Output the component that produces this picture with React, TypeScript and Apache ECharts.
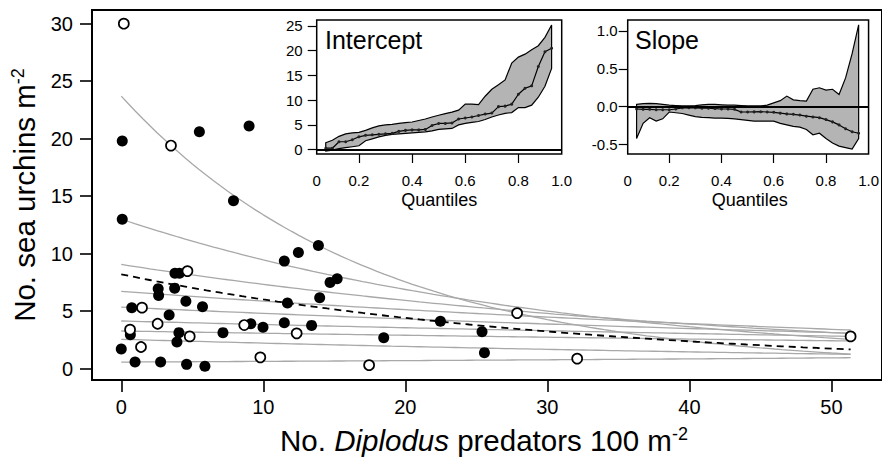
import React, { useEffect, useRef } from "react";
import * as echarts from "echarts";

const FONT = "'Liberation Sans', Arial, Helvetica, sans-serif";

// ---- main scatter: filled and open circles ----
const filledPredators = [0.07, 5.5, 9.0, 7.9, 0.07, 0.0, 0.97, 0.74, 0.64, 2.6, 2.63, 2.77, 3.37, 3.76, 3.78, 4.1, 4.55, 4.06, 3.92, 5.72, 4.6, 5.89, 7.16, 9.12, 9.98, 11.48, 11.7, 11.48, 12.47, 13.88, 14.7, 15.2, 13.97, 13.4, 18.48, 22.47, 25.4, 25.57];
const filledUrchins = [19.8, 20.6, 21.1, 14.6, 13.0, 1.7, 0.57, 5.3, 2.95, 6.95, 6.37, 0.57, 4.66, 7.0, 8.3, 8.3, 5.85, 3.13, 2.31, 5.39, 0.37, 0.2, 3.13, 3.9, 3.6, 9.35, 5.7, 3.99, 10.1, 10.71, 7.5, 7.82, 6.17, 3.76, 2.69, 4.11, 3.2, 1.39];
const openPredators = [0.18, 3.5, 1.46, 0.62, 1.39, 2.56, 4.66, 4.82, 8.66, 9.79, 12.35, 17.45, 27.87, 32.1, 51.35];
const openUrchins = [30.0, 19.4, 5.3, 3.39, 1.88, 3.9, 8.48, 2.8, 3.79, 0.98, 3.07, 0.3, 4.83, 0.87, 2.8];

// ---- fitted exponential curves y = a * exp(b * x) ----
const curveIntercepts = [23.7, 13.0, 9.06, 6.72, 5.35, 4.14, 3.27, 2.55, 0.57];
const curveRates = [-0.0572, -0.0318, -0.0212, -0.0135, -0.0107, -0.0076, -0.006, -0.014, 0.0099];
const meanIntercept = 8.2;
const meanRate = -0.031;
const curveXEnd = 51.35;

const mainXTicks = [0, 10, 20, 30, 40, 50];
const mainYTicks = [0, 5, 10, 15, 20, 25, 30];

// ---- insets ----
const quantiles = [0.075, 0.1, 0.125, 0.15, 0.175, 0.2, 0.225, 0.25, 0.275, 0.3, 0.325, 0.35, 0.375, 0.4, 0.425, 0.45, 0.475, 0.5, 0.525, 0.55, 0.575, 0.6, 0.625, 0.65, 0.675, 0.7, 0.725, 0.75, 0.775, 0.8, 0.825, 0.85, 0.875, 0.9, 0.925];
const interceptEst = [0.3, 0.3, 1.6, 1.6, 2.0, 2.6, 2.9, 3.0, 3.1, 3.2, 3.3, 3.7, 3.9, 4.0, 4.0, 4.1, 4.9, 5.3, 5.3, 5.4, 6.2, 6.4, 6.6, 6.9, 7.2, 7.4, 8.7, 8.8, 9.2, 11.2, 12.4, 12.9, 16.8, 19.8, 20.5];
const interceptHigh = [1.4, 1.9, 2.7, 3.2, 3.4, 3.5, 3.9, 4.4, 4.8, 5.0, 5.1, 5.3, 5.45, 5.6, 5.9, 6.2, 6.6, 6.95, 7.3, 7.6, 8.0, 9.2, 9.2, 9.1, 10.8, 12.2, 13.1, 14.1, 17.5, 18.7, 19.3, 20.2, 21.0, 22.7, 25.2];
const interceptLow = [-0.3, -0.1, 0.2, 0.4, 0.6, 0.8, 1.8, 2.2, 2.6, 2.9, 3.1, 3.2, 3.3, 3.4, 3.5, 3.6, 3.8, 4.1, 4.2, 4.3, 5.0, 5.3, 5.5, 5.7, 6.1, 6.6, 7.0, 7.35, 7.5, 8.5, 8.5, 9.0, 10.6, 12.8, 16.4];
const slopeEst = [-0.03, -0.035, -0.035, -0.04, -0.04, -0.04, -0.03, -0.015, -0.013, -0.015, -0.02, -0.02, -0.025, -0.03, -0.03, -0.035, -0.07, -0.07, -0.068, -0.066, -0.07, -0.074, -0.085, -0.095, -0.1, -0.11, -0.125, -0.135, -0.145, -0.17, -0.2, -0.24, -0.29, -0.33, -0.35];
const slopeHigh = [0.03, 0.04, 0.045, 0.04, 0.03, 0.02, 0.015, 0.01, 0.01, 0.015, 0.025, 0.03, 0.03, 0.025, 0.02, 0.02, 0.015, 0.01, 0.01, 0.01, 0.02, 0.05, 0.08, 0.14, 0.09, 0.08, 0.075, 0.23, 0.25, 0.22, 0.23, 0.16, 0.38, 0.7, 1.08];
const slopeLow = [-0.42, -0.22, -0.145, -0.19, -0.16, -0.07, -0.08, -0.09, -0.11, -0.13, -0.14, -0.145, -0.15, -0.15, -0.155, -0.16, -0.17, -0.18, -0.19, -0.19, -0.19, -0.19, -0.22, -0.24, -0.26, -0.27, -0.3, -0.37, -0.35, -0.42, -0.48, -0.52, -0.54, -0.56, -0.42];
const interceptTicks = [0, 5, 10, 15, 20, 25];
const slopeTicks = [-0.5, 0, 0.5, 1.0];
const quantileTicks = [0.2, 0.4, 0.6, 0.8];

const Q_MIN = 0.041;
const Q_MAX = 0.963;

function curvePoints(a: number, b: number) {
  const pts: number[][] = [];
  for (let x = 0; x < curveXEnd; x += 0.5) pts.push([x, a * Math.exp(b * x)]);
  pts.push([curveXEnd, a * Math.exp(b * curveXEnd)]);
  return pts;
}

function bandSeries(idx: number, low: number[], high: number[]) {
  return {
    type: "custom",
    xAxisIndex: idx,
    yAxisIndex: idx,
    silent: true,
    z: 2,
    data: [[quantiles[0], low[0]]],
    encode: { x: 0, y: 1 },
    renderItem: (_p: any, api: any) => {
      const pts: number[][] = [];
      for (let i = 0; i < quantiles.length; i++) pts.push(api.coord([quantiles[i], high[i]]));
      for (let i = quantiles.length - 1; i >= 0; i--) pts.push(api.coord([quantiles[i], low[i]]));
      return {
        type: "polygon",
        shape: { points: pts },
        style: { fill: "#b4b4b4", stroke: "#000", lineWidth: 1.2 },
      };
    },
  };
}

function estSeries(idx: number, est: number[]) {
  return {
    type: "line",
    xAxisIndex: idx,
    yAxisIndex: idx,
    silent: true,
    z: 3,
    data: quantiles.map((q, i) => [q, est[i]]),
    lineStyle: { color: "#000", width: 1.2 },
    itemStyle: { color: "#222", opacity: 1 },
    symbol: "circle",
    symbolSize: 3,
    showSymbol: true,
    markLine: {
      silent: true,
      symbol: ["none", "none"],
      label: { show: false },
      lineStyle: { color: "#000", width: 2, type: "solid" },
      data: [{ yAxis: 0 }],
    },
  };
}

function insetXAxis(idx: number) {
  return {
    gridIndex: idx,
    type: "value",
    min: Q_MIN,
    max: Q_MAX,
    axisLine: { show: false, onZero: false },
    splitLine: { show: false },
    axisTick: { show: true, customValues: quantileTicks, length: 9, lineStyle: { color: "#000", width: 1.2 } },
    axisLabel: {
      customValues: [Q_MIN, 0.2, 0.4, 0.6, 0.8, Q_MAX],
      formatter: (v: number) => (v < 0.1 ? "0" : v > 0.9 ? "1.0" : v.toFixed(1)),
      fontSize: 15,
      color: "#000",
      margin: 19,
      fontFamily: FONT,
    },
  };
}

function insetYAxis(idx: number, min: number, max: number, ticks: number[], fmt: (v: number) => string, margin: number) {
  return {
    gridIndex: idx,
    type: "value",
    min,
    max,
    axisLine: { show: false, onZero: false },
    splitLine: { show: false },
    axisTick: { show: true, customValues: ticks, length: 9, lineStyle: { color: "#000", width: 1.2 } },
    axisLabel: { customValues: ticks, formatter: fmt, fontSize: 15, color: "#000", margin, fontFamily: FONT },
  };
}

export default function App() {
  const ref = useRef<HTMLDivElement>(null);
  useEffect(() => {
    if (!ref.current) return;
    const chart = echarts.init(ref.current, undefined, { renderer: "svg" });
    const gridBase = { show: true, borderColor: "#000", backgroundColor: "#fff", containLabel: false };
    const option: any = {
      animation: false,
      backgroundColor: "#fff",
      textStyle: { fontFamily: FONT },
      grid: [
        { ...gridBase, left: 92, top: 10, width: 802.6, height: 370, borderWidth: 2 },
        { ...gridBase, left: 316.7, top: 20, width: 245, height: 134, borderWidth: 1.5 },
        { ...gridBase, left: 627.7, top: 20, width: 244, height: 134, borderWidth: 1.5 },
      ],
      xAxis: [
        {
          gridIndex: 0,
          type: "value",
          min: -2.06,
          max: 53.56,
          axisLine: { show: false, onZero: false },
          splitLine: { show: false },
          axisTick: { show: true, customValues: mainXTicks, length: 12, lineStyle: { color: "#000", width: 1.6 } },
          axisLabel: { customValues: mainXTicks, fontSize: 20, color: "#000", margin: 17, fontFamily: FONT },
        },
        insetXAxis(1),
        insetXAxis(2),
      ],
      yAxis: [
        {
          gridIndex: 0,
          type: "value",
          min: -0.99,
          max: 31.19,
          axisLine: { show: false, onZero: false },
          splitLine: { show: false },
          axisTick: { show: true, customValues: mainYTicks, length: 12, lineStyle: { color: "#000", width: 1.6 } },
          axisLabel: { customValues: mainYTicks, fontSize: 20, color: "#000", margin: 19, fontFamily: FONT },
        },
        insetYAxis(1, -0.87, 26.2, interceptTicks, (v) => String(v), 14),
        insetYAxis(2, -0.624, 1.144, slopeTicks, (v) => v.toFixed(1), 10),
      ],
      series: [
        ...curveIntercepts.map((a, i) => ({
          type: "line",
          xAxisIndex: 0,
          yAxisIndex: 0,
          silent: true,
          showSymbol: false,
          data: curvePoints(a, curveRates[i]),
          lineStyle: { color: "#a8a8a8", width: 1.3 },
          z: 2,
        })),
        {
          type: "line",
          xAxisIndex: 0,
          yAxisIndex: 0,
          silent: true,
          showSymbol: false,
          data: curvePoints(meanIntercept, meanRate),
          lineStyle: { color: "#000", width: 1.8, type: [7, 5] },
          z: 3,
        },
        {
          type: "scatter",
          xAxisIndex: 0,
          yAxisIndex: 0,
          silent: true,
          symbolSize: 11,
          itemStyle: { color: "#000", opacity: 1 },
          data: filledPredators.map((x, i) => [x, filledUrchins[i]]),
          z: 4,
        },
        {
          type: "scatter",
          xAxisIndex: 0,
          yAxisIndex: 0,
          silent: true,
          symbolSize: 10,
          itemStyle: { color: "#fff", borderColor: "#000", borderWidth: 1.7, opacity: 1 },
          data: openPredators.map((x, i) => [x, openUrchins[i]]),
          z: 5,
        },
        bandSeries(1, interceptLow, interceptHigh),
        estSeries(1, interceptEst),
        bandSeries(2, slopeLow, slopeHigh),
        estSeries(2, slopeEst),
      ],
      graphic: [
        {
          type: "text",
          x: 484,
          y: 440,
          style: {
            text: "{n|No. }{i|Diplodus}{n| predators 100 m}{s|-2}",
            align: "center",
            verticalAlign: "middle",
            rich: {
              n: { fontSize: 29.5, fontFamily: FONT, fill: "#000" },
              i: { fontSize: 29.5, fontFamily: FONT, fontStyle: "italic", fill: "#000" },
              s: { fontSize: 18, fontFamily: FONT, fill: "#000", verticalAlign: "top" },
            },
          },
        },
        {
          type: "text",
          x: 24,
          y: 195,
          rotation: Math.PI / 2,
          style: {
            text: "{n|No. sea urchins m}{s|-2}",
            align: "center",
            verticalAlign: "middle",
            rich: {
              n: { fontSize: 29.5, fontFamily: FONT, fill: "#000" },
              s: { fontSize: 18, fontFamily: FONT, fill: "#000", verticalAlign: "top" },
            },
          },
        },
        {
          type: "text",
          x: 325,
          y: 40,
          z: 10,
          style: { text: "Intercept", fontSize: 25, fontFamily: FONT, fill: "#000", align: "left", verticalAlign: "middle" },
        },
        {
          type: "text",
          x: 635,
          y: 40,
          z: 10,
          style: { text: "Slope", fontSize: 25, fontFamily: FONT, fill: "#000", align: "left", verticalAlign: "middle" },
        },
        {
          type: "text",
          x: 439.2,
          y: 200,
          style: { text: "Quantiles", fontSize: 18, fontFamily: FONT, fill: "#000", align: "center", verticalAlign: "middle" },
        },
        {
          type: "text",
          x: 749.7,
          y: 200,
          style: { text: "Quantiles", fontSize: 18, fontFamily: FONT, fill: "#000", align: "center", verticalAlign: "middle" },
        },
      ],
    };
    chart.setOption(option);
    return () => chart.dispose();
  }, []);
  return <div ref={ref} style={{ position: "absolute", left: 0, top: 0, width: 882, height: 458 }} />;
}
